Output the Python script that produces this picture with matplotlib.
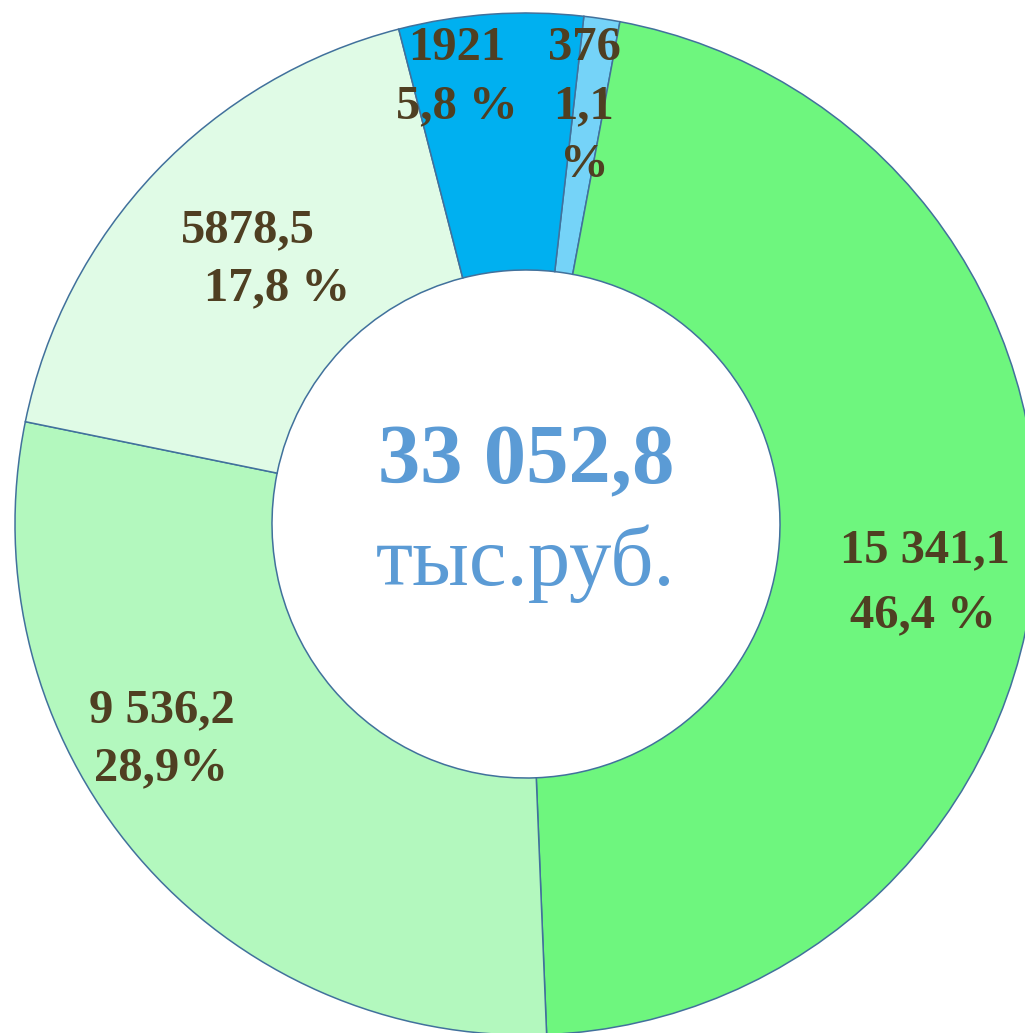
"""Donut chart: structure of 33 052,8 thousand rubles."""

import matplotlib
matplotlib.use("Agg")
import matplotlib.pyplot as plt

# slices, clockwise from the top
values = [376, 15341.1, 9536.2, 5878.5, 1921]
value_labels = ["376", "15 341,1", "9 536,2", "5878,5", "1921"]
pct_labels = ["1,1\n%", "46,4 %", "28,9%", "17,8 %", "5,8 %"]
colors = ["#75D3F8", "#6EF67E", "#B3F8BE", "#E0FBE6", "#00B0F0"]
total_label = "33 052,8"
unit_label = "тыс.руб."

W, H = 1025, 1033
CX, CY, R = 526, 524, 511   # pixel centre and outer radius

fig = plt.figure(figsize=(W / 100, H / 100), dpi=100)
ax = fig.add_axes([0, 0, 1, 1])

ax.pie(values, colors=colors, startangle=90 - 6.5, counterclock=False,
       radius=1.0,
       wedgeprops=dict(width=1 - 254 / R, edgecolor="#41719C", linewidth=1.1))

ax.set_xlim(-CX / R, (W - CX) / R)
ax.set_ylim((CY - H) / R, CY / R)
ax.set_aspect("auto")
ax.axis("off")


def px(x, y):
    return (x - CX) / R, (CY - y) / R


serif = ["Liberation Serif", "DejaVu Serif"]
lbl = dict(family=serif, fontsize=35, weight="bold", color="#4F3F22",
           ha="center", va="baseline")

# label baselines in pixels: (value line, percent line(s))
spots = [
    ((584, 60), [(583, 118), (584, 177)]),
    ((925, 562), [(923, 627)]),
    ((162, 722), [(161, 780)]),
    ((248, 242), [(277, 300)]),
    ((457, 60), [(457, 118)]),
]
for vl, pl, (vpos, ppos) in zip(value_labels, pct_labels, spots):
    ax.text(*px(*vpos), vl, **lbl)
    for part, pos in zip(pl.split("\n"), ppos):
        ax.text(*px(*pos), part, **lbl)

ax.text(*px(526, 483), total_label, family=serif, fontsize=61, weight="bold",
        color="#5B9BD5", ha="center", va="baseline")
ax.text(*px(526, 585), unit_label, family=serif, fontsize=61,
        color="#5B9BD5", ha="center", va="baseline")

fig.savefig("out.png", dpi=100)
